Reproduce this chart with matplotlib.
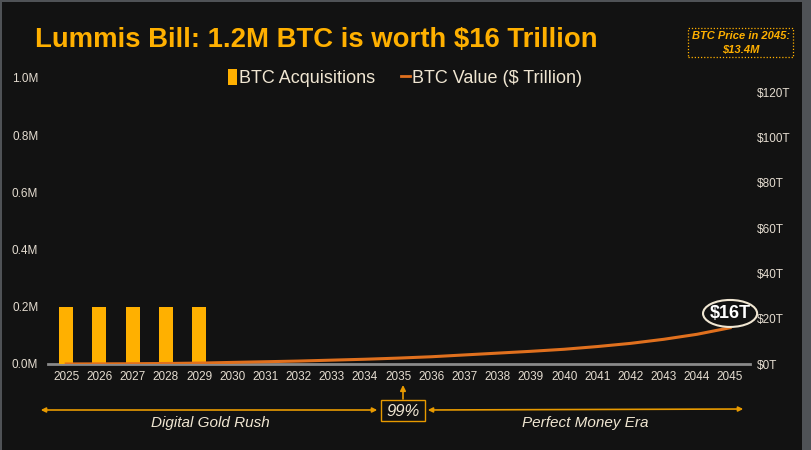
import numpy as np
import matplotlib
matplotlib.use('Agg')
import matplotlib.pyplot as plt
from matplotlib.patches import Rectangle, Ellipse, Patch, FancyArrowPatch
from matplotlib.lines import Line2D

plt.rcParams['font.family'] = ['Liberation Sans', 'DejaVu Sans']

# data
years = [str(y) for y in range(2025, 2046)]
acquisitions = [0.2, 0.2, 0.2, 0.2, 0.2] + [0] * 16  # million BTC
btc_value = [0.02, 0.06, 0.12, 0.22, 0.4, 0.7, 1.0, 1.3, 1.7, 2.1, 2.6,
             3.2, 4.0, 4.8, 5.6, 6.5, 7.7, 9.1, 10.9, 13.1, 16.0]  # $ trillion
left_ticks = [0, 0.2, 0.4, 0.6, 0.8, 1.0]
right_ticks = [0, 20, 40, 60, 80, 100, 120]

BG = '#121212'
ORANGE = '#FFB000'
LINE = '#E0701E'
ARROW = '#E89A00'
CREAM = '#F0E6D2'
TICK = '#E4DCD0'

W, H = 811, 450
fig = plt.figure(figsize=(W / 100, H / 100), dpi=100)
fig.patch.set_facecolor('#4f5256')
fig.patches.append(Rectangle((2 / W, 0), 800 / W, 448 / H, transform=fig.transFigure,
                             facecolor=BG, edgecolor='none', zorder=-10))


def fx(px):
    return px / W


def fy(py):
    return 1 - py / H


ax = fig.add_axes([fx(48), fy(364), fx(750) - fx(48), fy(78) - fy(364)])
ax.set_facecolor('none')
x = np.arange(len(years))
ax.bar(x, acquisitions, width=0.42, color=ORANGE, zorder=3)
ax.set_xlim(-0.55, 20.6)
ax.set_ylim(0, 1.0)
ax.set_yticks(left_ticks)
ax.set_yticklabels([f'{v:.1f}M' for v in left_ticks])
ax.set_xticks(x)
ax.set_xticklabels(years)
for s in ['top', 'right', 'left']:
    ax.spines[s].set_visible(False)
ax.spines['bottom'].set_color('#8a8a8a')
ax.spines['bottom'].set_linewidth(2)
ax.tick_params(axis='both', length=0, colors=TICK, labelsize=8.5)
ax.tick_params(axis='x', pad=5)
ax.tick_params(axis='y', pad=7)

ax2 = ax.twinx()
ax2.plot(x, btc_value, color=LINE, lw=2.2, zorder=4)
ax2.set_ylim(0, 126.2)
ax2.set_yticks(right_ticks)
ax2.set_yticklabels([f'${v}T' for v in right_ticks])
for s in ax2.spines.values():
    s.set_visible(False)
ax2.tick_params(axis='y', length=0, colors=TICK, labelsize=8.5, pad=5)

# $16T callout
ax2.add_patch(Ellipse((20, 22.3), 1.63, 11.9, facecolor='none', edgecolor=CREAM, lw=1.5,
                      zorder=5, clip_on=False))
ax2.text(20, 22.3, '$16T', ha='center', va='center', color='white', fontsize=13,
         fontweight='bold', zorder=6)

# legend
handles = [Patch(facecolor=ORANGE, edgecolor='none'),
           Line2D([0], [0], color=LINE, lw=2)]
fig.legend(handles, ['BTC Acquisitions', 'BTC Value ($ Trillion)'], ncol=2,
           loc='center', bbox_to_anchor=(fx(405), fy(78)), frameon=False,
           fontsize=13, handlelength=0.5, handleheight=1.0, handletextpad=0.15,
           columnspacing=1.4, labelcolor=CREAM)

# title
fig.text(fx(35), fy(40), 'Lummis Bill: 1.2M BTC is worth $16 Trillion', color=ORANGE,
         fontsize=19.8, fontweight='bold', ha='left', va='center')

# price box
fig.text(fx(741), fy(42.5), 'BTC Price in 2045:\n$13.4M', color=ORANGE, fontsize=8,
         fontweight='bold', fontstyle='italic', ha='center', va='center', linespacing=1.4)
fig.patches.append(Rectangle((fx(688), fy(57)), fx(793) - fx(688), fy(28) - fy(57),
                             transform=fig.transFigure, facecolor='none', edgecolor=ORANGE,
                             lw=0.9, linestyle=(0, (1, 1.5))))

# era arrows
arrow_kw = dict(arrowstyle='<|-|>', color=ARROW, lw=1.2, mutation_scale=7)
fig.patches.append(FancyArrowPatch((fx(38), fy(410)), (fx(380), fy(410)),
                                   transform=fig.transFigure, **arrow_kw))
fig.patches.append(FancyArrowPatch((fx(425), fy(410)), (fx(746), fy(409)),
                                   transform=fig.transFigure, **arrow_kw))
fig.patches.append(FancyArrowPatch((fx(403), fy(399)), (fx(403), fy(385)),
                                   transform=fig.transFigure, arrowstyle='-|>', color=ARROW,
                                   lw=1.2, mutation_scale=8, shrinkA=0, shrinkB=0))
fig.patches.append(Rectangle((fx(381), fy(421)), fx(425) - fx(381), fy(400) - fy(421),
                             transform=fig.transFigure, facecolor=BG, edgecolor=ARROW, lw=1))
fig.text(fx(403), fy(411), '99%', color=CREAM, fontsize=12, fontstyle='italic',
         ha='center', va='center')
fig.text(fx(210), fy(423), 'Digital Gold Rush', color=CREAM, fontsize=11, fontstyle='italic',
         ha='center', va='center')
fig.text(fx(585), fy(423), 'Perfect Money Era', color=CREAM, fontsize=11, fontstyle='italic',
         ha='center', va='center')

fig.savefig('out.png', dpi=100, facecolor=fig.get_facecolor())
